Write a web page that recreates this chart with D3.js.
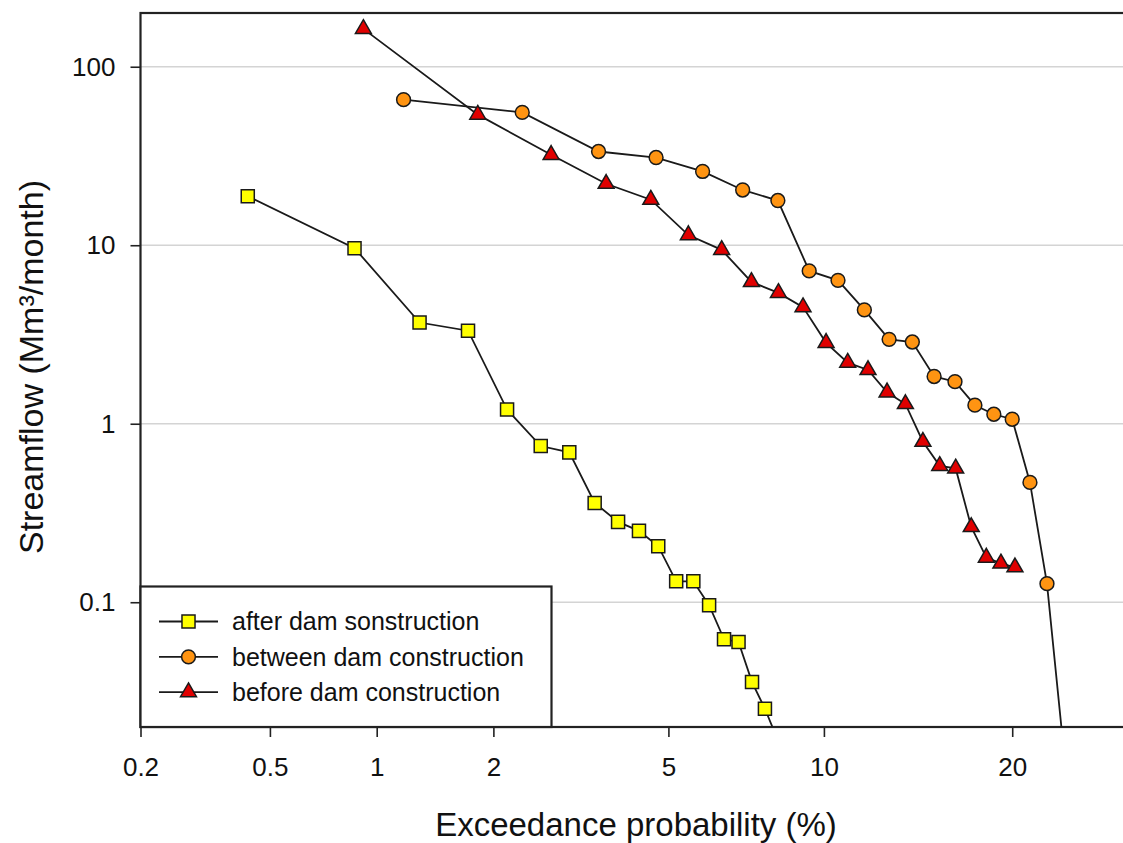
<!DOCTYPE html>
<html>
<head>
<meta charset="utf-8">
<script src="https://cdn.jsdelivr.net/npm/d3@7"></script>
<style>
  body { margin: 0; background: #fff; }
  svg { display: block; font-family: Arial, 'Liberation Sans', sans-serif; }
</style>
</head>
<body>
<svg id="chart" width="1123" height="843"></svg>
<script>
'use strict';

// exceedance probability (%) and streamflow (Mm3/month) per period
const afterProb = [0.43, 0.87, 1.30, 1.73, 2.16, 2.60, 3.03, 3.46, 3.90, 4.33,
  4.76, 5.19, 5.63, 6.06, 6.49, 6.93, 7.36, 7.79, 8.23];
const afterFlow = [18.8, 9.63, 3.69, 3.32, 1.20, 0.750, 0.691, 0.360, 0.282, 0.251,
  0.206, 0.131, 0.131, 0.0962, 0.0620, 0.0599, 0.0357, 0.0253, 0.017];

const betweenProb = [1.18, 2.35, 3.53, 4.71, 5.88, 7.06, 8.24, 9.41, 10.59, 11.76,
  12.94, 14.12, 15.29, 16.47, 17.65, 18.82, 20.00, 21.18, 22.35, 23.53];
const betweenFlow = [65.4, 55.5, 33.5, 31.0, 25.9, 20.4, 17.8, 7.18, 6.36, 4.34,
  2.97, 2.87, 1.84, 1.72, 1.27, 1.13, 1.06, 0.469, 0.127, 0.015];

const beforeProb = [0.92, 1.83, 2.75, 3.67, 4.59, 5.50, 6.42, 7.34, 8.26, 9.17,
  10.09, 11.01, 11.93, 12.84, 13.76, 14.68, 15.60, 16.51, 17.43, 18.35, 19.27, 20.18];
const beforeFlow = [163, 53.9, 32.1, 22.1, 18.0, 11.4, 9.42, 6.23, 5.41, 4.50,
  2.84, 2.20, 2.00, 1.50, 1.29, 0.793, 0.581, 0.562, 0.264, 0.178, 0.165, 0.157];

const xTicks = [0.2, 0.5, 1, 2, 5, 10, 20];
const yTicks = [0.1, 1, 10, 100];

const seriesNames = ['after dam sonstruction', 'between dam construction', 'before dam construction'];
const seriesFill = ['#ffff00', '#ff9412', '#e00000'];
const seriesSymbol = [d3.symbolSquare, d3.symbolCircle, d3.symbolTriangle];
const seriesSize = [170, 150, 110];

/**
 * Inverse of the standard normal CDF (Acklam's approximation)
 * @param {Number} p probability in (0, 1)
 * @return {Number} z value
 */
function probit(p) {
  const a = [-39.69683028665376, 220.9460984245205, -275.9285104469687,
    138.3577518672690, -30.66479806614716, 2.506628277459239];
  const b = [-54.47609879822406, 161.5858368580409, -155.6989798598866,
    66.80131188771972, -13.28068155288572];
  const c = [-0.007784894002430293, -0.3223964580411365, -2.400758277161838,
    -2.549732539343734, 4.374664141464968, 2.938163982698783];
  const d = [0.007784695709041462, 0.3224671290700398, 2.445134137142996,
    3.754408661907416];
  const pLow = 0.02425;
  let q;
  let r;
  if (p < pLow) {
    q = Math.sqrt(-2 * Math.log(p));
    return (((((c[0] * q + c[1]) * q + c[2]) * q + c[3]) * q + c[4]) * q + c[5]) /
      ((((d[0] * q + d[1]) * q + d[2]) * q + d[3]) * q + 1);
  }
  if (p <= 1 - pLow) {
    q = p - 0.5;
    r = q * q;
    return (((((a[0] * r + a[1]) * r + a[2]) * r + a[3]) * r + a[4]) * r + a[5]) * q /
      (((((b[0] * r + b[1]) * r + b[2]) * r + b[3]) * r + b[4]) * r + 1);
  }
  q = Math.sqrt(-2 * Math.log(1 - p));
  return -(((((c[0] * q + c[1]) * q + c[2]) * q + c[3]) * q + c[4]) * q + c[5]) /
    ((((d[0] * q + d[1]) * q + d[2]) * q + d[3]) * q + 1);
}

const plotLeft = 140.5;
const plotRight = 1148;
const plotTop = 13;
const plotBottom = 727;

// probability axis: linear in the normal quantile
const zScale = d3.scaleLinear().domain([probit(0.002), probit(0.30)]).range([plotLeft, plotRight]);
const x = (pct) => zScale(probit(pct / 100));
const y = d3.scaleLog().domain([0.02, 200]).range([plotBottom, plotTop]);

const svg = d3.select('#chart');

svg.append('defs').append('clipPath').attr('id', 'plot-clip')
  .append('rect')
  .attr('x', plotLeft).attr('y', plotTop)
  .attr('width', plotRight - plotLeft).attr('height', plotBottom - plotTop);

// grid lines
svg.append('g')
  .selectAll('line')
  .data(yTicks)
  .enter()
  .append('line')
  .attr('x1', plotLeft).attr('x2', plotRight)
  .attr('y1', (d) => y(d)).attr('y2', (d) => y(d))
  .style('stroke', '#d4d4d4')
  .style('stroke-width', 1.6);

// y axis
const yAxis = svg.append('g')
  .attr('transform', 'translate(' + plotLeft + ',0)')
  .call(d3.axisLeft(y).tickValues(yTicks).tickFormat(d3.format('~g')).tickSize(10).tickPadding(15));

// x axis
const xAxis = svg.append('g')
  .attr('transform', 'translate(0,' + plotBottom + ')')
  .call(d3.axisBottom(zScale)
    .tickValues(xTicks.map((d) => probit(d / 100)))
    .tickFormat((d, i) => xTicks[i])
    .tickSize(10).tickPadding(21));

[xAxis, yAxis].forEach(function(g) {
  g.select('.domain').remove();
  g.selectAll('line').style('stroke', '#222').style('stroke-width', 1.6);
  g.selectAll('text').style('font-size', '26px').style('fill', '#111')
    .style('font-family', 'Arial, \'Liberation Sans\', sans-serif');
});

// frame
svg.append('rect')
  .attr('x', plotLeft).attr('y', plotTop)
  .attr('width', plotRight - plotLeft).attr('height', plotBottom - plotTop)
  .style('fill', 'none')
  .style('stroke', '#222')
  .style('stroke-width', 2.2);

// series
const series = [
  {prob: afterProb, flow: afterFlow},
  {prob: betweenProb, flow: betweenFlow},
  {prob: beforeProb, flow: beforeFlow},
];

const line = d3.line()
  .x((d) => x(d[0]))
  .y((d) => y(d[1]));

const plot = svg.append('g').attr('clip-path', 'url(#plot-clip)');

series.forEach(function(s, i) {
  const pts = s.prob.map((p, j) => [p, s.flow[j]]);
  plot.append('path')
    .datum(pts)
    .attr('d', line)
    .style('fill', 'none')
    .style('stroke', '#1a1a1a')
    .style('stroke-width', 1.8);

  plot.selectAll('path.sym' + i)
    .data(pts)
    .enter()
    .append('path')
    .attr('class', 'sym' + i)
    .attr('d', d3.symbol().type(seriesSymbol[i]).size(seriesSize[i]))
    .attr('transform', (d) => 'translate(' + x(d[0]) + ',' + y(d[1]) + ')')
    .style('fill', seriesFill[i])
    .style('stroke', '#1a1a1a')
    .style('stroke-width', 1.5);
});

// legend
const legend = svg.append('g');
legend.append('rect')
  .attr('x', plotLeft).attr('y', 586.5)
  .attr('width', 411).attr('height', plotBottom - 586.5)
  .style('fill', '#fff')
  .style('stroke', '#222')
  .style('stroke-width', 2.2);

const rows = legend.selectAll('g.row')
  .data(seriesNames)
  .enter()
  .append('g')
  .attr('class', 'row')
  .attr('transform', (d, i) => 'translate(0,' + (621.5 + i * 35.3) + ')');

rows.append('line')
  .attr('x1', 159).attr('x2', 218)
  .style('stroke', '#1a1a1a')
  .style('stroke-width', 1.8);

rows.append('path')
  .attr('d', (d, i) => d3.symbol().type(seriesSymbol[i]).size(seriesSize[i])())
  .attr('transform', 'translate(188.5,0)')
  .style('fill', (d, i) => seriesFill[i])
  .style('stroke', '#1a1a1a')
  .style('stroke-width', 1.5);

rows.append('text')
  .attr('x', 232)
  .attr('dy', '0.35em')
  .style('font-size', '25px')
  .style('fill', '#111')
  .text((d) => d);

// axis titles
svg.append('text')
  .attr('x', 636)
  .attr('y', 836)
  .attr('text-anchor', 'middle')
  .style('font-size', '33px')
  .style('fill', '#111')
  .text('Exceedance probability (%)');

svg.append('text')
  .attr('transform', 'translate(43,367) rotate(-90)')
  .attr('text-anchor', 'middle')
  .style('font-size', '34px')
  .style('fill', '#111')
  .text('Streamflow (Mm³/month)');
</script>
</body>
</html>
